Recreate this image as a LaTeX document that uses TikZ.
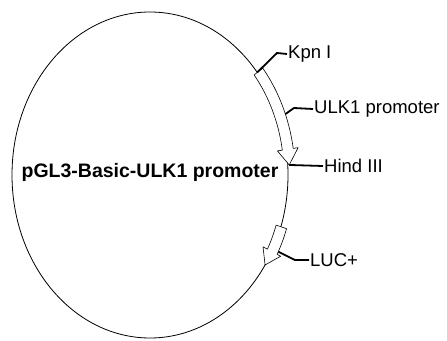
\documentclass[tikz,border=0pt]{standalone}
\usepackage{fontspec}
\setmainfont{Liberation Sans}
\usetikzlibrary{calc}

\begin{document}
\begin{tikzpicture}[x=1pt, y=-1pt, blockarr/.style={draw=black, line width=0.6pt, fill=white, line join=round}, leader/.style={line width=1.8pt, black}, sitelabel/.style={anchor=west, inner sep=1pt, font=\fontsize{18.5}{20}\selectfont}, plasmid/.style={font=\bfseries\fontsize{19.5}{21}\selectfont, inner sep=0pt}]
			\useasboundingbox (0,0) rectangle (447,340);
			\coordinate (c) at (150,175);

			\draw[line width=0.8pt] (c) ellipse[x radius=138, y radius=163];
			\node[plasmid] (name) at ($(c)+(0,-3)$) {pGL3-Basic-ULK1 promoter};

			%promoter arrow, from Kpn I down to Hind III
			\draw[blockarr] ($(c)+(-39:134 and 159)$) arc[start angle=-39, end angle=-9, x radius=134, y radius=159]
				-- ($(c)+(-9:129 and 154)$) -- ($(c)+(-3.5:139.5 and 164.5)$) coordinate (tip) -- ($(c)+(-9:150 and 175)$)
				-- ($(c)+(-9:145 and 170)$) arc[start angle=-9, end angle=-39, x radius=145, y radius=170] -- cycle;

			%LUC+ arrow
			\draw[blockarr] ($(c)+(18.5:133 and 158)$) arc[start angle=18.5, end angle=28, x radius=133, y radius=158]
				-- ($(c)+(28:128 and 153)$) -- ($(c)+(33.5:138 and 163)$) -- ($(c)+(28:148 and 173)$)
				-- ($(c)+(28:144 and 169)$) arc[start angle=28, end angle=18.5, x radius=144, y radius=169] -- cycle;

			\coordinate (kpn) at ($(c)+(-39:138 and 163)$);
			\coordinate (ulk) at ($(c)+(-21:145 and 170)$);
			\coordinate (luc) at ($(c)+(27:144 and 169)$);

			\node[sitelabel] (kpnI) at (287,54) {Kpn I};
			\node[sitelabel] (ulkprom) at (313,109) {ULK1 promoter};
			\node[sitelabel] (hindIII) at (323,166) {Hind III};
			\node[sitelabel] (lucplus) at (309,260) {LUC+};

			\draw[leader] (kpn) -- (277,53) -- (kpnI.west);
			\draw[leader] (ulk) -- (294,108) -- (ulkprom.west);
			\draw[leader] (tip) -- (hindIII.west);
			\draw[leader] (luc) -- (295,260) -- (lucplus.west);

		\end{tikzpicture}
\end{document}
